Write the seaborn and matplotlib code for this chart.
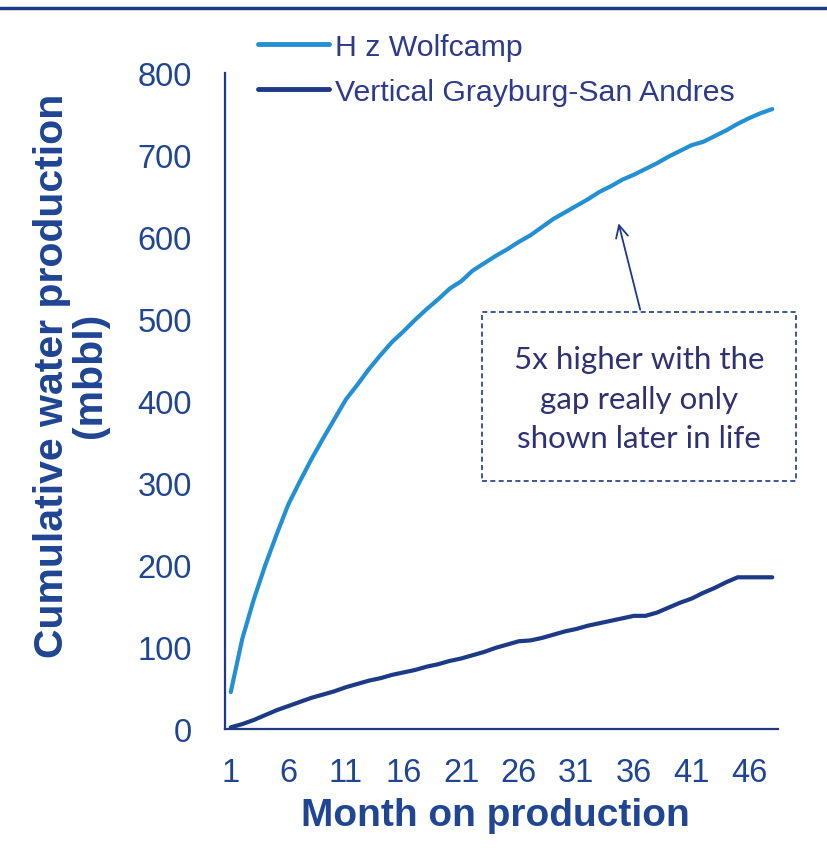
import numpy as np
import pandas as pd
import matplotlib
matplotlib.use("Agg")
import matplotlib.pyplot as plt
from matplotlib.lines import Line2D
from matplotlib.patches import Rectangle
import seaborn as sns

months = list(range(1, 49))
hz_wolfcamp = [45, 110, 158, 200, 238, 274, 302, 329, 354, 378,
               402, 420, 439, 456, 472, 485, 499, 512, 524, 537,
               546, 559, 568, 577, 585, 594, 602, 612, 622, 630,
               638, 646, 655, 662, 670, 676, 683, 690, 698, 705,
               712, 716, 723, 730, 738, 745, 751, 756]
vertical_gsa = [2, 6, 11, 17, 23, 28, 33, 38, 42, 46,
                51, 55, 59, 62, 66, 69, 72, 76, 79, 83,
                86, 90, 94, 99, 103, 107, 108, 111, 115, 119,
                122, 126, 129, 132, 135, 138, 138, 142, 148, 154,
                159, 166, 172, 179, 185, 185, 185, 185]
series_names = ["H z Wolfcamp", "Vertical Grayburg-San Andres"]
x_ticks = [1, 6, 11, 16, 21, 26, 31, 36, 41, 46]
y_ticks = [0, 100, 200, 300, 400, 500, 600, 700, 800]
note = "5x higher with the\ngap really only\nshown later in life"

df = pd.concat([
    pd.DataFrame({"Month": months, "Water": hz_wolfcamp, "Series": series_names[0]}),
    pd.DataFrame({"Month": months, "Water": vertical_gsa, "Series": series_names[1]}),
])

sns.set_theme(style="white")
plt.rcParams["font.family"] = ["Liberation Sans", "DejaVu Sans"]

LIGHT = "#2290D2"
DARK = "#1D3A86"
NAVY = "#1F4593"
TXT = "#2E3A8A"

fig = plt.figure(figsize=(8.28, 8.54), dpi=100)
ax = fig.add_axes([225/828, 1-730/854, (778-225)/828, (730-74)/854])

sns.lineplot(data=df, x="Month", y="Water", hue="Series",
             palette={series_names[0]: LIGHT, series_names[1]: DARK},
             linewidth=3.0, ax=ax, legend=False)

ax.set_xlim(0.5, 48.5)
ax.set_ylim(0, 800)
ax.set_xticks(x_ticks)
ax.set_yticks(y_ticks)
ax.tick_params(axis="both", length=0, labelcolor=NAVY, labelsize=23.5)
ax.tick_params(axis="y", pad=24)
ax.tick_params(axis="x", pad=20)
for s in ["top", "right"]:
    ax.spines[s].set_visible(False)
for s in ["left", "bottom"]:
    ax.spines[s].set_color(DARK)
    ax.spines[s].set_linewidth(1.6)
ax.grid(False)

ax.set_xlabel("Month on production", fontsize=28, fontweight="bold", color=NAVY, labelpad=7)
ax.xaxis.label.set_x((495 - 225) / 553)
ax.set_ylabel("Cumulative water production\n(mbbl)", fontsize=29.5, fontweight="bold",
              color=NAVY, linespacing=1.0)
ax.yaxis.set_label_coords(-0.21, 0.54)

handles = [Line2D([], [], color=LIGHT, lw=3.5), Line2D([], [], color=DARK, lw=3.5)]
fig.legend(handles, series_names, loc="upper left",
           bbox_to_anchor=(258/828, 1-34/854), bbox_transform=fig.transFigure,
           frameon=False, fontsize=21.8, handlelength=2.35, handletextpad=0.2,
           labelspacing=0.55, borderpad=0, borderaxespad=0, labelcolor=TXT)

# top rule
fig.add_artist(Line2D([0, 1], [1-9/854, 1-9/854], transform=fig.transFigure,
                      color=DARK, lw=2.5))

# annotation box
x0, x1 = 22.8, 50.1
y0, y1 = 302, 508
ax.add_patch(Rectangle((x0, y0), x1-x0, y1-y0, fill=False, ls=(0, (3, 2)),
                       lw=1.2, edgecolor=DARK, clip_on=False))
ax.text((x0+x1)/2, (y0+y1)/2 - 2, note, ha="center", va="center", fontsize=22.5,
        color="#2F3170", linespacing=1.5, family=["Lato", "DejaVu Sans"])
ax.annotate("", xy=(34.6, 620), xytext=(36.6, 508),
            arrowprops=dict(arrowstyle="->", color=DARK, lw=1.3,
                            mutation_scale=22))

fig.savefig("out.png", dpi=100)
